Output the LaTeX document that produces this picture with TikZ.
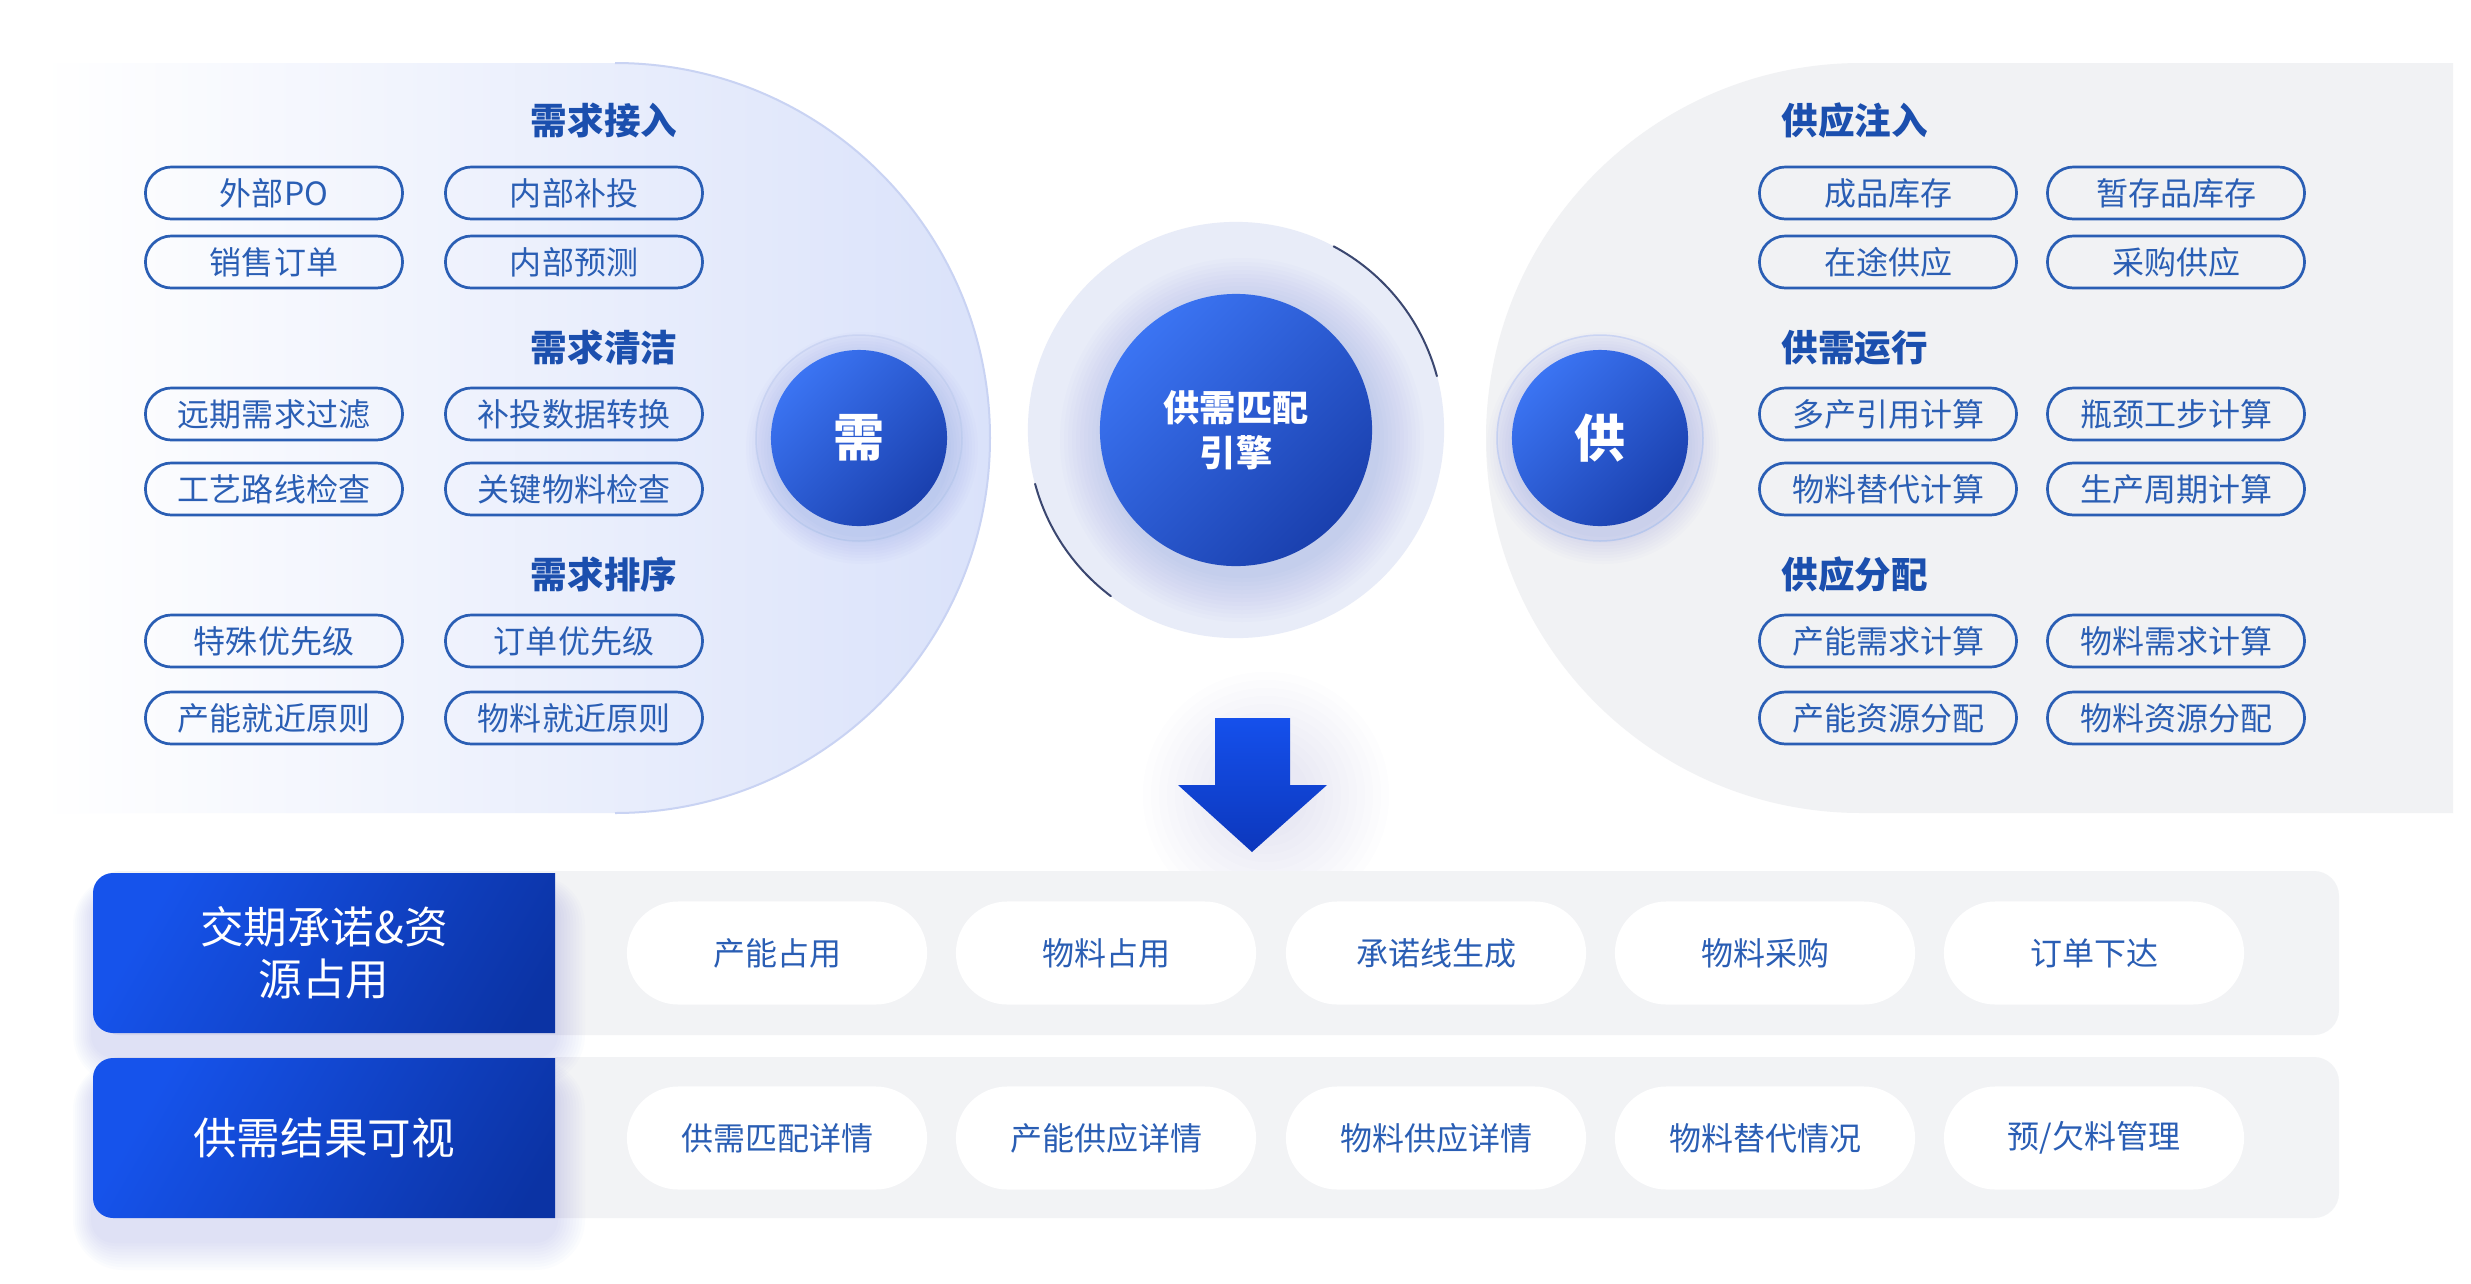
\documentclass[tikz,border=0pt]{standalone}
\usepackage{fontspec}
\setmainfont{Noto Sans CJK SC}
\definecolor{pillc}{HTML}{2A5EB4}
\definecolor{titlec}{HTML}{1B4FAE}
\definecolor{ballA}{HTML}{3B74F3}
\definecolor{ballB}{HTML}{1A40AE}
\definecolor{boxA}{HTML}{1653EB}
\definecolor{boxB}{HTML}{0B33A4}
\definecolor{leftR}{HTML}{DAE2FA}
\definecolor{leftedge}{HTML}{C9D3F3}
\definecolor{rightP}{HTML}{F1F2F4}
\definecolor{barc}{HTML}{F2F3F5}
\definecolor{ringc}{HTML}{E8ECF8}
\definecolor{glowc}{HTML}{5C74C8}
\definecolor{shadowc}{HTML}{3A58C0}
\definecolor{arcdark}{HTML}{3B4770}
\definecolor{haloc}{HTML}{D9E0F7}
\definecolor{haloedge}{HTML}{CFD8F4}
\definecolor{arrowA}{HTML}{1550EC}
\definecolor{arrowB}{HTML}{0C37BC}
\tikzset{
  pill/.style={draw=pillc, line width=0.027cm, rounded corners=0.26cm, minimum width=2.57cm,
    minimum height=0.52cm, text=pillc, font=\fontsize{9.1}{11}\selectfont, inner sep=0pt},
  sectitle/.style={text=titlec, font=\fontsize{10.4}{12}\selectfont\bfseries, inner sep=0pt},
  ball/.style={circle, top color=ballA, bottom color=ballB, shading angle=45, text=white,
    font=\fontsize{14.5}{16}\selectfont\bfseries, inner sep=0pt},
  boxtxt/.style={text=white, font=\fontsize{12.4}{14.8}\selectfont, align=center, inner sep=0pt},
  respill/.style={fill=white, rounded corners=0.515cm, minimum width=3cm, minimum height=1.03cm,
    text=pillc, font=\fontsize{9.1}{11}\selectfont, inner sep=0pt},
  darkarc/.style={draw=arcdark, line width=0.02cm, line cap=round},
}
\newcommand\mysoftbox[5]{%
  \foreach \k [evaluate=\k as \rr using (#5+\k*3)*0.01] in {1,...,10}{%
    \fill[shadowc, opacity=0.016, rounded corners=\rr cm] (#1-\k*2, #2-\k*2+22) rectangle (#3+\k*3, #4+\k*3+22);}}
\newcommand\mysoftball[3]{%
  \foreach \k in {1,...,10}{%
    \fill[shadowc, opacity=0.015] (#1+3,#2+10) circle ({#3+\k*3});}}
\begin{document}
\begin{tikzpicture}[x=0.01cm, y=-0.01cm]
\useasboundingbox[fill=white] (0,0) rectangle (2471,1284);

% ---------- left panel ----------
\shade[left color=white, right color=leftR] (40,63) -- (615,63) arc[start angle=-90, end angle=90, radius=375] -- (40,813) -- cycle;
\draw[leftedge, line width=0.02cm] (615,63) arc[start angle=-90, end angle=90, radius=375];

% ---------- right panel ----------
\fill[rightP] (2453,63) -- (1861,63) arc[start angle=-90, end angle=-270, radius=375] -- (2453,813) -- cycle;

% ---------- demand ball ----------
\fill[haloc, opacity=0.45] (859,438) circle (103);
\draw[haloedge, line width=0.015cm] (859,438) circle (103);
\mysoftball{859}{438}{86}
\node (xu) [ball, minimum size=1.76cm] at (859,438) {需};

% ---------- supply ball ----------
\fill[haloc, opacity=0.35] (1600,438) circle (103);
\draw[haloedge, line width=0.015cm] (1600,438) circle (103);
\mysoftball{1600}{438}{86}
\node (gong) [ball, minimum size=1.76cm] at (1600,438) {供};

% ---------- engine ----------
\node (ring) [circle, fill=ringc, minimum size=4.16cm, inner sep=0pt] at (1236,430) {};
\foreach \k in {1,...,12}{\fill[glowc, opacity=0.018] (1242,440) circle ({134+\k*4});}
\draw[darkarc] ([shift={(-15:208)}]ring.center) arc[start angle=-15, end angle=-62, radius=208];
\draw[darkarc] ([shift={(165:208)}]ring.center) arc[start angle=165, end angle=127, radius=208];
\node (engine) [ball, minimum size=2.72cm, align=center, font=\fontsize{10.3}{12.8}\selectfont\bfseries] at (1236,430) {供需匹配\\引擎};

% ---------- left titles and pills ----------
\node (dt1) [sectitle] at (604,121) {需求接入};
\node (dt2) [sectitle] at (604,348) {需求清洁};
\node (dt3) [sectitle] at (604,575) {需求排序};
\node (d1)  [pill] at (274,193) {外部PO};
\node (d2)  [pill] at (574,193) {内部补投};
\node (d3)  [pill] at (274,262) {销售订单};
\node (d4)  [pill] at (574,262) {内部预测};
\node (d5)  [pill] at (274,414) {远期需求过滤};
\node (d6)  [pill] at (574,414) {补投数据转换};
\node (d7)  [pill] at (274,489) {工艺路线检查};
\node (d8)  [pill] at (574,489) {关键物料检查};
\node (d9)  [pill] at (274,641) {特殊优先级};
\node (d10) [pill] at (574,641) {订单优先级};
\node (d11) [pill] at (274,718) {产能就近原则};
\node (d12) [pill] at (574,718) {物料就近原则};

% ---------- right titles and pills ----------
\node (st1) [sectitle, anchor=west] at (1781,121) {供应注入};
\node (st2) [sectitle, anchor=west] at (1781,348) {供需运行};
\node (st3) [sectitle, anchor=west] at (1781,575) {供应分配};
\node (s1)  [pill] at (1888,193) {成品库存};
\node (s2)  [pill] at (2176,193) {暂存品库存};
\node (s3)  [pill] at (1888,262) {在途供应};
\node (s4)  [pill] at (2176,262) {采购供应};
\node (s5)  [pill] at (1888,414) {多产引用计算};
\node (s6)  [pill] at (2176,414) {瓶颈工步计算};
\node (s7)  [pill] at (1888,489) {物料替代计算};
\node (s8)  [pill] at (2176,489) {生产周期计算};
\node (s9)  [pill] at (1888,641) {产能需求计算};
\node (s10) [pill] at (2176,641) {物料需求计算};
\node (s11) [pill] at (1888,718) {产能资源分配};
\node (s12) [pill] at (2176,718) {物料资源分配};

% ---------- arrow ----------
\foreach \k in {1,...,11}{\fill[glowc, opacity=0.012] (1266,795) circle ({35+\k*8});}
\shade[top color=arrowA, bottom color=arrowB] (1215,718) -- (1290,718) -- (1290,785) -- (1327,785) -- (1252,852) -- (1178,785) -- (1215,785) -- cycle;

% ---------- bottom rows ----------
\fill[barc, rounded corners=0.25cm] (95,871) rectangle (2339,1035);
\fill[barc, rounded corners=0.25cm] (95,1057) rectangle (2339,1218);

\mysoftbox{93}{873}{555}{1033}{20}
\begin{scope}
  \clip (80,873) rectangle (555,1033);
  \shade[top color=boxA, bottom color=boxB, shading angle=60, rounded corners=0.2cm] (93,873) rectangle (600,1033);
\end{scope}
\mysoftbox{93}{1058}{555}{1218}{20}
\begin{scope}
  \clip (80,1058) rectangle (555,1218);
  \shade[top color=boxA, bottom color=boxB, shading angle=60, rounded corners=0.2cm] (93,1058) rectangle (600,1218);
\end{scope}
\node (commit) [boxtxt] at (324,953) {交期承诺\&资\\源占用};
\node (visual) [boxtxt] at (324,1138) {供需结果可视};

\node (r1) [respill] at (777,953)  {产能占用};
\node (r2) [respill] at (1106,953) {物料占用};
\node (r3) [respill] at (1436,953) {承诺线生成};
\node (r4) [respill] at (1765,953) {物料采购};
\node (r5) [respill] at (2094,953) {订单下达};
\node (v1) [respill] at (777,1138)  {供需匹配详情};
\node (v2) [respill] at (1106,1138) {产能供应详情};
\node (v3) [respill] at (1436,1138) {物料供应详情};
\node (v4) [respill] at (1765,1138) {物料替代情况};
\node (v5) [respill] at (2094,1138) {预/欠料管理};
\end{tikzpicture}
\end{document}
